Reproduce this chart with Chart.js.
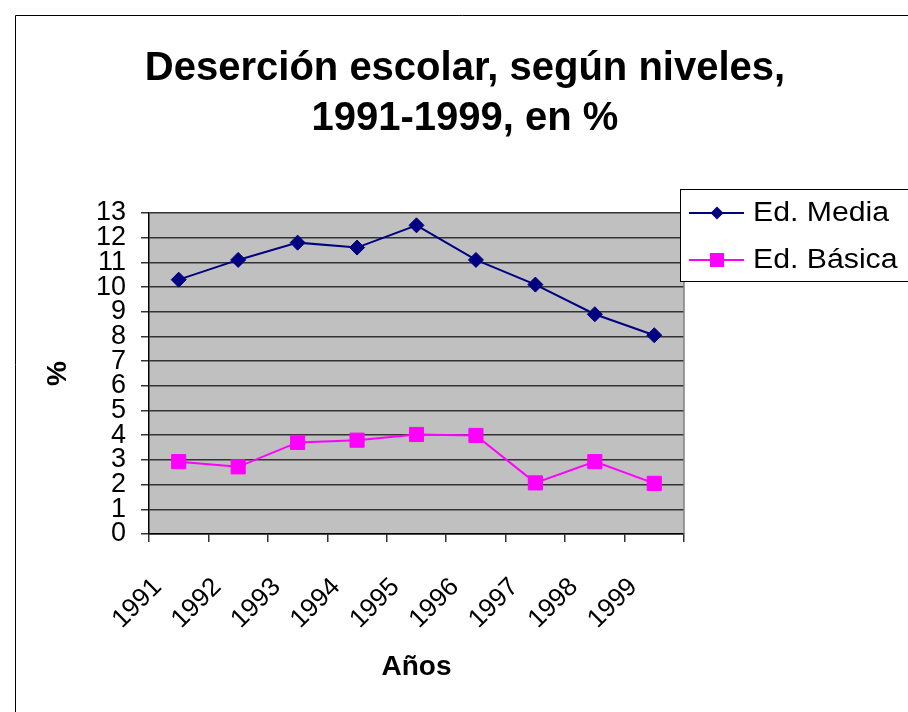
<!DOCTYPE html>
<html><head><meta charset="utf-8">
<script src="https://cdn.jsdelivr.net/npm/chart.js@4"></script>
<style>html,body{margin:0;padding:0;background:#fff;overflow:hidden}#wrap{position:relative;width:908px;height:712px}</style>
</head><body><div id="wrap"><canvas id="c" width="908" height="712"></canvas></div>
<script>
const years = ['1991','1992','1993','1994','1995','1996','1997','1998','1999'];
const edMedia = [10.3, 11.1, 11.8, 11.6, 12.5, 11.1, 10.1, 8.9, 8.05];
const edBasica = [2.93, 2.72, 3.71, 3.8, 4.03, 3.99, 2.07, 2.93, 2.05];
const seriesNames = ['Ed. Media', 'Ed. Básica'];
const titleLines = ['Deserción escolar, según niveles,', '1991-1999, en %'];
const xTitle = 'Años';
const yTitle = '%';
const yMin = 0, yMax = 13, yStep = 1;

const FONT = '"Liberation Sans", Arial, sans-serif';
Chart.defaults.font.family = FONT;
Chart.defaults.color = '#000';

const navy = '#000080', magenta = '#FF00FF';

const decor = {
  id: 'decor',
  beforeDraw(chart) {
    const {ctx, chartArea: a} = chart;
    ctx.save();
    ctx.fillStyle = '#fff';
    ctx.fillRect(0, 0, chart.width, chart.height);
    ctx.strokeStyle = '#000';
    ctx.lineWidth = 1;
    ctx.beginPath();
    ctx.moveTo(15.5, chart.height + 5);
    ctx.lineTo(15.5, 15.5);
    ctx.lineTo(chart.width + 5, 15.5);
    ctx.stroke();
    ctx.fillStyle = '#c0c0c0';
    ctx.fillRect(a.left, a.top, a.right - a.left, a.bottom - a.top);
    ctx.restore();
  },
  afterDraw(chart) {
    const {ctx, chartArea: a} = chart;
    ctx.save();
    // plot right border
    ctx.strokeStyle = '#808080';
    ctx.lineWidth = 1.5;
    ctx.beginPath();
    ctx.moveTo(a.right, a.top);
    ctx.lineTo(a.right, a.bottom);
    ctx.stroke();
    // title
    ctx.fillStyle = '#000';
    ctx.textAlign = 'center';
    ctx.textBaseline = 'alphabetic';
    ctx.font = 'bold 40px ' + FONT;
    const baselines = [80, 130];
    titleLines.forEach((t, i) => {
      ctx.fillText(t, 465, baselines[i]);
    });
    // legend
    ctx.fillStyle = '#fff';
    ctx.fillRect(680, 189, 240, 92);
    ctx.strokeStyle = '#000';
    ctx.lineWidth = 1;
    ctx.strokeRect(680.5, 189.5, 240, 92);
    const rows = [213, 260];
    const colors = [navy, magenta];
    rows.forEach((y, i) => {
      ctx.strokeStyle = colors[i];
      ctx.lineWidth = 2;
      ctx.beginPath();
      ctx.moveTo(689, y);
      ctx.lineTo(744, y);
      ctx.stroke();
      ctx.fillStyle = colors[i];
      if (i === 0) {
        ctx.beginPath();
        ctx.moveTo(717, y - 6.5);
        ctx.lineTo(723.5, y);
        ctx.lineTo(717, y + 6.5);
        ctx.lineTo(710.5, y);
        ctx.closePath();
        ctx.fill();
      } else {
        ctx.fillRect(710, y - 7, 14, 14);
      }
      ctx.fillStyle = '#000';
      ctx.textAlign = 'left';
      ctx.textBaseline = 'middle';
      ctx.font = '27px ' + FONT;
      ctx.save();
      ctx.translate(753, y + 1);
      ctx.scale(1.12, 1);
      ctx.fillText(seriesNames[i], 0, 0);
      ctx.restore();
    });
    ctx.restore();
  }
};

new Chart(document.getElementById('c'), {
  type: 'line',
  data: {
    labels: years,
    datasets: [
      {
        label: seriesNames[0], data: edMedia,
        borderColor: navy, backgroundColor: navy, borderWidth: 2,
        pointStyle: 'rectRot', pointRadius: 7.5, pointBorderWidth: 1,
        pointBackgroundColor: navy, pointBorderColor: navy, tension: 0
      },
      {
        label: seriesNames[1], data: edBasica,
        borderColor: magenta, backgroundColor: magenta, borderWidth: 2,
        pointStyle: 'rect', pointRadius: 10, pointBorderWidth: 1,
        pointBackgroundColor: magenta, pointBorderColor: magenta, tension: 0
      }
    ]
  },
  options: {
    responsive: false,
    animation: false,
    devicePixelRatio: 1,
    layout: {padding: {top: 213, right: 224, left: 0, bottom: 0}},
    plugins: {legend: {display: false}, title: {display: false}, tooltip: {enabled: false}},
    scales: {
      x: {
        type: 'category',
        offset: true,
        grid: {offset: true, drawOnChartArea: false, drawTicks: true, tickLength: 8, color: '#333', lineWidth: 1.5},
        border: {color: '#000', width: 1.5},
        ticks: {font: {size: 26}, color: '#000', maxRotation: 45, minRotation: 45, autoSkip: false, padding: 30, labelOffset: -21},
        title: {display: true, text: xTitle, font: {size: 28, weight: 'bold'}, color: '#000', padding: {top: 0, bottom: 28}},
        afterFit(s) { s.height = 178; }
      },
      y: {
        min: yMin, max: yMax,
        grid: {color: '#333', lineWidth: 1.5, tickLength: 8, drawTicks: true},
        border: {color: '#000', width: 1.5},
        ticks: {stepSize: yStep, autoSkip: false, font: {size: 27}, color: '#000', padding: 15},
        title: {display: true, text: yTitle, font: {size: 28, weight: 'bold'}, color: '#000', padding: {top: 41, bottom: 0}},
        afterFit(s) { s.width = 149; }
      }
    }
  },
  plugins: [decor]
});
</script>
</body></html>
